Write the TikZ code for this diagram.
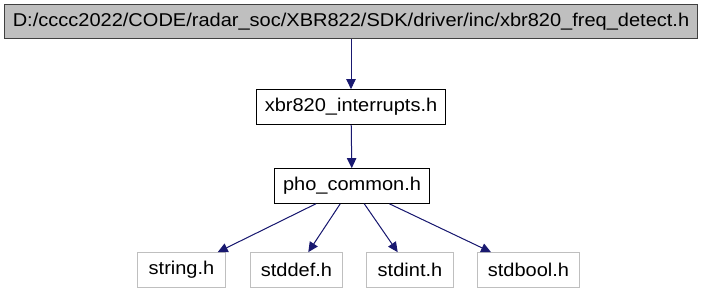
\documentclass[tikz,border=0pt]{standalone}
\usepackage{fontspec}
\setmainfont{Liberation Sans}[FakeStretch=1.08]
\usepackage{tikz,xcolor}
\usetikzlibrary{arrows.meta}

\definecolor{edgeblue}{HTML}{191970}
\definecolor{topgrey}{HTML}{BFBFBF}
\definecolor{leafgrey}{HTML}{BFBFBF}

\tikzset{
  hdr/.style={draw=black, fill=white, line width=0.75pt, inner xsep=6.4pt,
    minimum height=26pt, font=\fontsize{13.9pt}{16pt}\selectfont},
  tophdr/.style={hdr, fill=topgrey, draw=black!75},
  syshdr/.style={hdr, draw=leafgrey, inner xsep=8.1pt},
  inc/.style={draw=edgeblue, line width=0.75pt,
    -{Triangle[length=7.5pt,width=7pt]}, fill=edgeblue}
}

\begin{document}
\begin{tikzpicture}[x=0.75pt,y=-0.75pt]
  \useasboundingbox (0,0) rectangle (705,293);

  % the header and its include chain
  \node[tophdr] (freq) at (351,21.5) {D:/cccc2022/CODE/radar\_soc/XBR822/SDK/driver/inc/xbr820\_freq\_detect.h};
  \node[hdr] (irq) at (351,107) {xbr820\_interrupts.h};
  \node[hdr] (common) at (352,186) {pho\_common.h};

  % system headers
  \node[syshdr] (string) at (181.5,270) {string.h};
  \node[syshdr] (stddef) at (296.5,270) {stddef.h};
  \node[syshdr] (stdint) at (410,270) {stdint.h};
  \node[syshdr] (stdbool) at (528.5,270) {stdbool.h};

  \draw[inc] (freq) -- (irq);
  \draw[inc] (irq) -- (common);
  \draw[inc] (common) -- (string);
  \draw[inc] (common) -- (stddef);
  \draw[inc] (common) -- (stdint);
  \draw[inc] (common) -- (stdbool);

\end{tikzpicture}
\end{document}
